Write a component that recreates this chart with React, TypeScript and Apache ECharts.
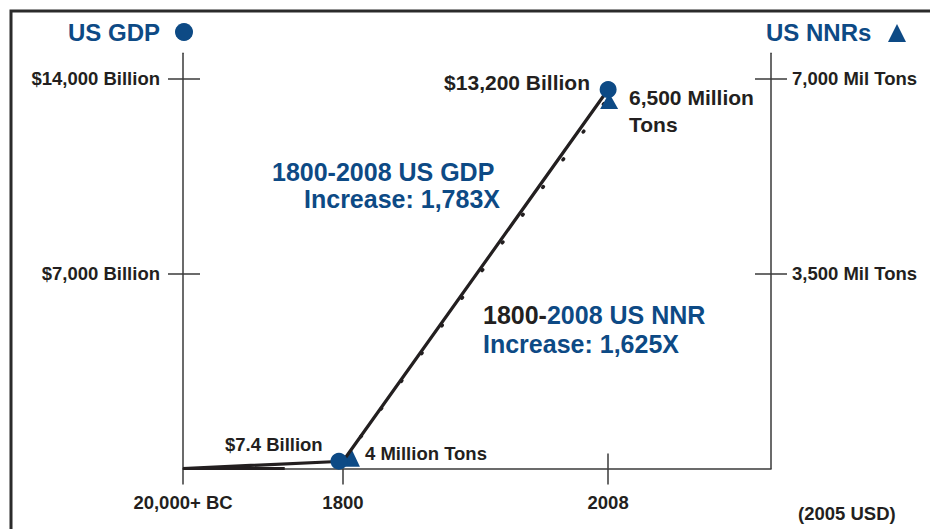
import { useEffect, useRef } from 'react';
import * as echarts from 'echarts';

// schematic time axis: labels and their positions along a 0-100 scale
const timeLabels = ['20,000+ BC', '1800', '2008'];
const timePositions = [0, 27.2, 72.3];

// US GDP (billions of 2005 USD) at 20,000+ BC, 1800, 2008 (as plotted)
const gdpBillions = [0, 260, 13600];
// US NNR use (million tons) at 1800, 2008 (as plotted)
const nnrPositions = [27.2, 72.3];
const nnrMilTons = [130, 6650];
// flat pre-1800 NNR segment
const nnrEarlyPositions = [0, 17.3];
const nnrEarlyMilTons = [0, 0];

const gdpTicks = [7000, 14000];
const gdpTickLabels = ['$7,000 Billion', '$14,000 Billion'];
const nnrTicks = [3500, 7000];
const nnrTickLabels = ['3,500 Mil Tons', '7,000 Mil Tons'];

const BLUE = '#0d4a85';
const INK = '#231f20';
const AXIS = '#3a3a3a';
const FONT = '"Liberation Sans", Arial, Helvetica, sans-serif';

export default function App() {
  const ref = useRef<HTMLDivElement>(null);

  useEffect(() => {
    if (!ref.current) return;
    const chart = echarts.init(ref.current, null, { renderer: 'svg' });

    const labelStyle = { fontSize: 18.5, fontWeight: 'bold', color: INK, fontFamily: FONT };

    const option: any = {
      animation: false,
      backgroundColor: '#ffffff',
      grid: { left: 183, right: 159, top: 53.3, bottom: 60.5, containLabel: false },
      xAxis: [
        {
          type: 'value', min: 0, max: 100, position: 'bottom',
          axisLine: { show: true, onZero: false, lineStyle: { color: AXIS, width: 1.5 } },
          axisTick: { show: true, inside: false, length: 16, customValues: timePositions, lineStyle: { color: AXIS, width: 1.5 } },
          axisLabel: {
            show: true, customValues: timePositions, margin: 24, ...labelStyle,
            formatter: (v: number) => {
              const i = timePositions.findIndex((p) => Math.abs(p - v) < 0.01);
              return i >= 0 ? timeLabels[i] : '';
            },
          },
          splitLine: { show: false },
        },
        {
          type: 'value', min: 0, max: 100, position: 'bottom',
          axisLine: { show: false, onZero: false },
          axisTick: { show: true, inside: true, length: 15, customValues: [timePositions[2]], lineStyle: { color: AXIS, width: 1.5 } },
          axisLabel: { show: false },
          splitLine: { show: false },
        },
      ],
      yAxis: [
        {
          type: 'value', min: 0, max: 14900, position: 'left',
          axisLine: { show: true, onZero: false, lineStyle: { color: AXIS, width: 1.5 } },
          axisTick: { show: true, inside: false, length: 15, customValues: gdpTicks, lineStyle: { color: AXIS, width: 1.5 } },
          axisLabel: {
            show: true, customValues: gdpTicks, margin: 23, ...labelStyle,
            formatter: (v: number) => gdpTickLabels[gdpTicks.indexOf(v)] ?? '',
          },
          splitLine: { show: false },
        },
        {
          type: 'value', min: 0, max: 7450, position: 'right',
          axisLine: { show: true, onZero: false, lineStyle: { color: AXIS, width: 1.5 } },
          axisTick: { show: true, inside: false, length: 16, customValues: nnrTicks, lineStyle: { color: AXIS, width: 1.5 } },
          axisLabel: {
            show: true, customValues: nnrTicks, margin: 21, ...labelStyle,
            formatter: (v: number) => nnrTickLabels[nnrTicks.indexOf(v)] ?? '',
          },
          splitLine: { show: false },
        },
        {
          type: 'value', min: 0, max: 14900, position: 'left',
          axisLine: { show: false, onZero: false },
          axisTick: { show: true, inside: true, length: 17, customValues: gdpTicks, lineStyle: { color: AXIS, width: 1.5 } },
          axisLabel: { show: false },
          splitLine: { show: false },
        },
        {
          type: 'value', min: 0, max: 7450, position: 'right',
          axisLine: { show: false, onZero: false },
          axisTick: { show: true, inside: true, length: 16, customValues: nnrTicks, lineStyle: { color: AXIS, width: 1.5 } },
          axisLabel: { show: false },
          splitLine: { show: false },
        },
      ],
      series: [
        {
          name: 'US NNRs early',
          type: 'line', xAxisIndex: 0, yAxisIndex: 1,
          data: nnrEarlyPositions.map((x, i) => [x, nnrEarlyMilTons[i]]),
          symbol: 'none',
          lineStyle: { color: INK, width: 3 },
          z: 3,
        },
        {
          name: 'US NNRs',
          type: 'line', xAxisIndex: 0, yAxisIndex: 1,
          data: nnrPositions.map((x, i) => ({
            value: [x, nnrMilTons[i]],
            symbolOffset: i === 0 ? [8, -4] : [1, 3],
            symbolSize: i === 0 ? [18, 19] : [18, 16],
          })),
          symbol: 'triangle',
          showSymbol: true,
          itemStyle: { color: BLUE },
          lineStyle: { color: INK, width: 3.5, type: [1, 33.3], dashOffset: 4, cap: 'round' },
          z: 4,
        },
        {
          name: 'US GDP',
          type: 'line', xAxisIndex: 0, yAxisIndex: 0,
          data: timePositions.map((x, i) => ({
            value: [x, gdpBillions[i]],
            symbol: i === 0 ? 'none' : 'circle',
            symbolOffset: i === 1 ? [-4, 0] : [0, 0],
          })),
          symbolSize: 17,
          showSymbol: true,
          itemStyle: { color: BLUE },
          lineStyle: { color: INK, width: 3.2 },
          z: 5,
        },
      ],
      graphic: [
        {
          type: 'rect', silent: true, z: 0,
          shape: { x: 11, y: 11, width: 1400, height: 1400 },
          style: { fill: 'none', stroke: '#2b2b2b', lineWidth: 3 },
        },
        {
          type: 'text', x: 68, y: 32,
          style: { text: 'US GDP', fill: BLUE, fontSize: 24, fontWeight: 'bold', fontFamily: FONT, textAlign: 'left', textVerticalAlign: 'middle' },
        },
        { type: 'circle', shape: { cx: 184, cy: 32, r: 9 }, style: { fill: BLUE } },
        {
          type: 'text', x: 766, y: 32,
          style: { text: 'US NNRs', fill: BLUE, fontSize: 24, fontWeight: 'bold', fontFamily: FONT, textAlign: 'left', textVerticalAlign: 'middle' },
        },
        { type: 'polygon', shape: { points: [[888, 42], [906, 42], [897, 24]] }, style: { fill: BLUE } },
        {
          type: 'text', x: 590, y: 82.5,
          style: { text: '$13,200 Billion', fill: INK, fontSize: 21, fontWeight: 'bold', fontFamily: FONT, textAlign: 'right', textVerticalAlign: 'middle' },
        },
        {
          type: 'text', x: 629, y: 84,
          style: { text: '6,500 Million\nTons', fill: INK, fontSize: 21, lineHeight: 27, fontWeight: 'bold', fontFamily: FONT, textAlign: 'left', textVerticalAlign: 'top' },
        },
        {
          type: 'text', x: 272, y: 171.5,
          style: { text: '1800-2008 US GDP', fill: BLUE, fontSize: 25, fontWeight: 'bold', fontFamily: FONT, textAlign: 'left', textVerticalAlign: 'middle' },
        },
        {
          type: 'text', x: 500, y: 198.5,
          style: { text: 'Increase: 1,783X', fill: BLUE, fontSize: 25, fontWeight: 'bold', fontFamily: FONT, textAlign: 'right', textVerticalAlign: 'middle' },
        },
        {
          type: 'text', x: 483, y: 315,
          style: {
            text: '{k|1800-}{b|2008 US NNR}',
            fontSize: 25, fontWeight: 'bold', fontFamily: FONT, textAlign: 'left', textVerticalAlign: 'middle',
            rich: {
              k: { fill: INK, fontSize: 25, fontWeight: 'bold', fontFamily: FONT },
              b: { fill: BLUE, fontSize: 25, fontWeight: 'bold', fontFamily: FONT },
            },
          },
        },
        {
          type: 'text', x: 483, y: 344,
          style: { text: 'Increase: 1,625X', fill: BLUE, fontSize: 25, fontWeight: 'bold', fontFamily: FONT, textAlign: 'left', textVerticalAlign: 'middle' },
        },
        {
          type: 'text', x: 225, y: 444.5,
          style: { text: '$7.4 Billion', fill: INK, fontSize: 18.5, fontWeight: 'bold', fontFamily: FONT, textAlign: 'left', textVerticalAlign: 'middle' },
        },
        {
          type: 'text', x: 365, y: 453,
          style: { text: '4 Million Tons', fill: INK, fontSize: 18.5, fontWeight: 'bold', fontFamily: FONT, textAlign: 'left', textVerticalAlign: 'middle' },
        },
        {
          type: 'text', x: 798, y: 513,
          style: { text: '(2005 USD)', fill: INK, fontSize: 18.5, fontWeight: 'bold', fontFamily: FONT, textAlign: 'left', textVerticalAlign: 'middle' },
        },
      ],
    };

    chart.setOption(option);
    return () => chart.dispose();
  }, []);

  return (
    <div
      ref={ref}
      style={{ position: 'fixed', left: 0, top: 0, width: 930, height: 529, background: '#fff' }}
    />
  );
}
